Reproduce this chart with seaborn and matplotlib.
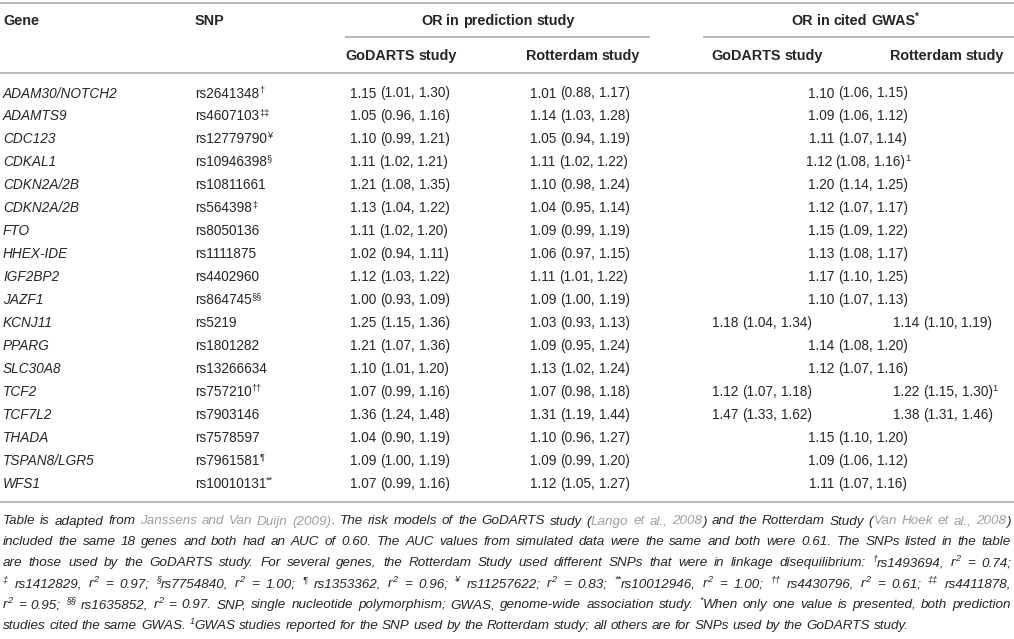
import re
import matplotlib
matplotlib.use('Agg')
import matplotlib.pyplot as plt
import seaborn as sns

# === Table data ===
genes = ['ADAM30/NOTCH2', 'ADAMTS9', 'CDC123', 'CDKAL1', 'CDKN2A/2B', 'CDKN2A/2B',
         'FTO', 'HHEX-IDE', 'IGF2BP2', 'JAZF1', 'KCNJ11', 'PPARG', 'SLC30A8',
         'TCF2', 'TCF7L2', 'THADA', 'TSPAN8/LGR5', 'WFS1']
snps = ['rs2641348', 'rs4607103', 'rs12779790', 'rs10946398', 'rs10811661', 'rs564398',
        'rs8050136', 'rs1111875', 'rs4402960', 'rs864745', 'rs5219', 'rs1801282',
        'rs13266634', 'rs757210', 'rs7903146', 'rs7578597', 'rs7961581', 'rs10010131']
snp_marks = ['\u2020', '\u2021\u2021', '\u00a5', '\u00a7', '', '\u2021', '', '', '',
             '\u00a7\u00a7', '', '', '', '\u2020\u2020', '', '', '\u00b6', '**']
or_pred_godarts = ['1.15 (1.01, 1.30)', '1.05 (0.96, 1.16)', '1.10 (0.99, 1.21)',
                   '1.11 (1.02, 1.21)', '1.21 (1.08, 1.35)', '1.13 (1.04, 1.22)',
                   '1.11 (1.02, 1.20)', '1.02 (0.94, 1.11)', '1.12 (1.03, 1.22)',
                   '1.00 (0.93, 1.09)', '1.25 (1.15, 1.36)', '1.21 (1.07, 1.36)',
                   '1.10 (1.01, 1.20)', '1.07 (0.99, 1.16)', '1.36 (1.24, 1.48)',
                   '1.04 (0.90, 1.19)', '1.09 (1.00, 1.19)', '1.07 (0.99, 1.16)']
or_pred_rotterdam = ['1.01 (0.88, 1.17)', '1.14 (1.03, 1.28)', '1.05 (0.94, 1.19)',
                     '1.11 (1.02, 1.22)', '1.10 (0.98, 1.24)', '1.04 (0.95, 1.14)',
                     '1.09 (0.99, 1.19)', '1.06 (0.97, 1.15)', '1.11 (1.01, 1.22)',
                     '1.09 (1.00, 1.19)', '1.03 (0.93, 1.13)', '1.09 (0.95, 1.24)',
                     '1.13 (1.02, 1.24)', '1.07 (0.98, 1.18)', '1.31 (1.19, 1.44)',
                     '1.10 (0.96, 1.27)', '1.09 (0.99, 1.20)', '1.12 (1.05, 1.27)']
# GWAS: when rotterdam is None, one value is shared by both studies
or_gwas_godarts = ['1.10 (1.06, 1.15)', '1.09 (1.06, 1.12)', '1.11 (1.07, 1.14)',
                   '1.12 (1.08, 1.16)', '1.20 (1.14, 1.25)', '1.12 (1.07, 1.17)',
                   '1.15 (1.09, 1.22)', '1.13 (1.08, 1.17)', '1.17 (1.10, 1.25)',
                   '1.10 (1.07, 1.13)', '1.18 (1.04, 1.34)', '1.14 (1.08, 1.20)',
                   '1.12 (1.07, 1.16)', '1.12 (1.07, 1.18)', '1.47 (1.33, 1.62)',
                   '1.15 (1.10, 1.20)', '1.09 (1.06, 1.12)', '1.11 (1.07, 1.16)']
or_gwas_rotterdam = [None, None, None, None, None, None, None, None, None, None,
                     '1.14 (1.10, 1.19)', None, None, '1.22 (1.15, 1.30)',
                     '1.38 (1.31, 1.46)', None, None, None]
gwas_godarts_marks = ['', '', '', '1', '', '', '', '', '', '', '', '', '', '', '', '', '', '']
gwas_rotterdam_marks = ['', '', '', '', '', '', '', '', '', '', '', '', '', '1', '', '', '', '']

# footnote lines: (text, kind) with kind n=normal, c=citation, s=superscript
footnote = [
    [('Table is adapted from ', 'n'), ('Janssens and Van Duijn (2009)', 'c'),
     ('. The risk models of the GoDARTS study (', 'n'), ('Lango et al., 2008', 'c'),
     (') and the Rotterdam Study (', 'n'), ('Van Hoek et al., 2008', 'c'), (')', 'n')],
    [('included the same 18 genes and both had an AUC of 0.60. The AUC values from simulated '
      'data were the same and both were 0.61. The SNPs listed in the table', 'n')],
    [('are those used by the GoDARTS study. For several genes, the Rotterdam Study used '
      'different SNPs that were in linkage disequilibrium: ', 'n'), ('\u2020', 's'),
     ('rs1493694, r', 'n'), ('2', 's'), (' = 0.74;', 'n')],
    [('\u2021', 's'), (' rs1412829, r', 'n'), ('2', 's'), (' = 0.97; ', 'n'), ('\u00a7', 's'),
     ('rs7754840, r', 'n'), ('2', 's'), (' = 1.00; ', 'n'), ('\u00b6', 's'),
     (' rs1353362, r', 'n'), ('2', 's'), (' = 0.96; ', 'n'), ('\u00a5', 's'),
     (' rs11257622; r', 'n'), ('2', 's'), (' = 0.83; ', 'n'), ('**', 's'),
     ('rs10012946, r', 'n'), ('2', 's'), (' = 1.00; ', 'n'), ('\u2020\u2020', 's'),
     (' rs4430796, r', 'n'), ('2', 's'), (' = 0.61; ', 'n'), ('\u2021\u2021', 's'),
     (' rs4411878,', 'n')],
    [('r', 'n'), ('2', 's'), (' = 0.95; ', 'n'), ('\u00a7\u00a7', 's'), (' rs1635852, r', 'n'),
     ('2', 's'), (' = 0.97. SNP, single nucleotide polymorphism; GWAS, genome-wide association '
                  'study. ', 'n'), ('*', 's'),
     ('When only one value is presented, both prediction', 'n')],
    [('studies cited the same GWAS. ', 'n'), ('1', 's'),
     ('GWAS studies reported for the SNP used by the Rotterdam study; all others are for SNPs '
      'used by the GoDARTS study.', 'n')],
]

# === Style ===
sns.set_theme(style='white')
plt.rcParams['font.family'] = ['Liberation Sans', 'DejaVu Sans']

W, H = 1014, 639
fig = plt.figure(figsize=(W / 100, H / 100), dpi=100)
ax = fig.add_axes([0, 0, 1, 1])
ax.set_xlim(0, W)
ax.set_ylim(H, 0)
ax.axis('off')
renderer = fig.canvas.get_renderer()

TEXT = '#262626'
GREY = '#a0a0a0'
RULE = '#b4b4b4'
BODY = 9.8
HEAD = 10.4
NOTE = 9.7


def px(pt):
    return pt * 100 / 72


def draw_runs(x, y, runs, size, weight='normal', style='normal', anchor='left', width=None):
    items = []
    for txt, kind in runs:
        for part in re.split(r'( )', txt):
            if part:
                items.append((part, kind))
    objs, widths = [], []
    space = px(size) * 0.278
    for part, kind in items:
        if part == ' ':
            objs.append(None)
            widths.append(space)
            continue
        fs = size * 0.68 if kind == 's' else size
        dy = -px(size) * 0.38 if kind == 's' else 0
        col = GREY if kind == 'c' else TEXT
        t = ax.text(0, y + dy, part, fontsize=fs, fontweight=weight, fontstyle=style,
                    color=col, ha='left', va='baseline')
        objs.append(t)
        widths.append(t.get_window_extent(renderer).width)
    total = sum(widths)
    extra = 0
    n_sp = sum(1 for o in objs if o is None)
    if width is not None and n_sp:
        extra = (width - total) / n_sp
    if anchor == 'center':
        cx = x - total / 2
    elif anchor == 'right':
        cx = x - total
    else:
        cx = x
    for o, w in zip(objs, widths):
        if o is None:
            cx += w + extra
        else:
            o.set_x(cx)
            cx += w


def rule(x0, x1, y):
    ax.plot([x0, x1], [y, y], color=RULE, lw=1.3, solid_capstyle='butt')


# === Header ===
rule(0, W, 3)
draw_runs(3, 25, [('Gene', 'n')], HEAD, weight='bold')
draw_runs(195, 25, [('SNP', 'n')], HEAD, weight='bold')
draw_runs(498, 25, [('OR in prediction study', 'n')], HEAD, weight='bold', anchor='center')
draw_runs(855, 25, [('OR in cited GWAS', 'n'), ('*', 's')], HEAD, weight='bold', anchor='center')
rule(345, 650, 37)
rule(703, W, 37)
draw_runs(345, 60, [('GoDARTS study', 'n')], HEAD, weight='bold')
draw_runs(526, 60, [('Rotterdam study', 'n')], HEAD, weight='bold')
draw_runs(711, 60, [('GoDARTS study', 'n')], HEAD, weight='bold')
draw_runs(1004, 60, [('Rotterdam study', 'n')], HEAD, weight='bold', anchor='right')
rule(0, W, 73)

# === Rows ===
row_h = 22.95
for i, gene in enumerate(genes):
    y = 97.5 + i * row_h
    draw_runs(3, y, [(gene, 'n')], BODY, style='italic')
    draw_runs(195, y, [(snps[i], 'n'), (snp_marks[i], 's')], BODY)
    draw_runs(350, y, [(or_pred_godarts[i], 'n')], BODY)
    draw_runs(530, y, [(or_pred_rotterdam[i], 'n')], BODY)
    if or_gwas_rotterdam[i] is None:
        draw_runs(858, y, [(or_gwas_godarts[i], 'n'), (gwas_godarts_marks[i], 's')],
                  BODY, anchor='center')
    else:
        draw_runs(712, y, [(or_gwas_godarts[i], 'n'), (gwas_godarts_marks[i], 's')], BODY)
        draw_runs(893, y, [(or_gwas_rotterdam[i], 'n'), (gwas_rotterdam_marks[i], 's')], BODY)

rule(0, W, 502)

# === Footnote ===
for j, line in enumerate(footnote):
    y = 524.5 + j * 20.9
    just = W - 6 if j < len(footnote) - 1 else None
    draw_runs(3, y, line, NOTE, style='italic', width=just)

fig.savefig('out.png', dpi=100)
